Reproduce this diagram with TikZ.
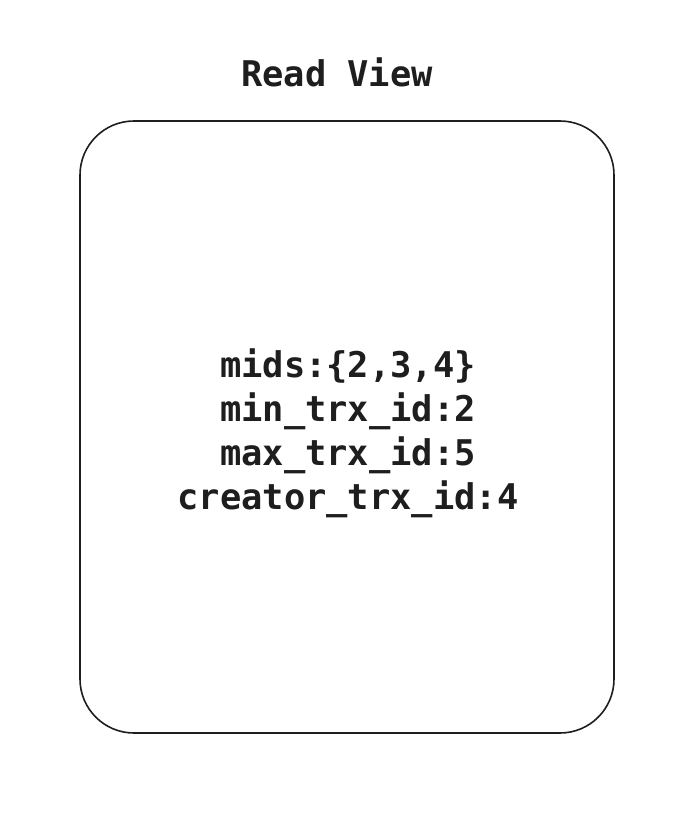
\documentclass[tikz,border=0pt]{standalone}
\usepackage{fontspec}
\setmonofont{DejaVu Sans Mono}
\definecolor{ink}{HTML}{1E1E1E}
\tikzset{
  frame/.style={draw=ink, line width=1.6pt, rounded corners=54pt},
  monotext/.style={text=ink, font=\ttfamily\bfseries\fontsize{35.4}{44}\selectfont, align=center, inner sep=0pt}
}
\begin{document}
\begin{tikzpicture}[x=1pt,y=-1pt]
\useasboundingbox[fill=white] (0,0) rectangle (696,814);
\draw[frame] (80,121) rectangle (614,733);
\node[monotext] (title) at (337,72) {Read View};
\node[monotext] (body) at (348,433) {mids:\{2,3,4\}\\min\_trx\_id:2\\max\_trx\_id:5\\creator\_trx\_id:4};
\end{tikzpicture}
\end{document}
